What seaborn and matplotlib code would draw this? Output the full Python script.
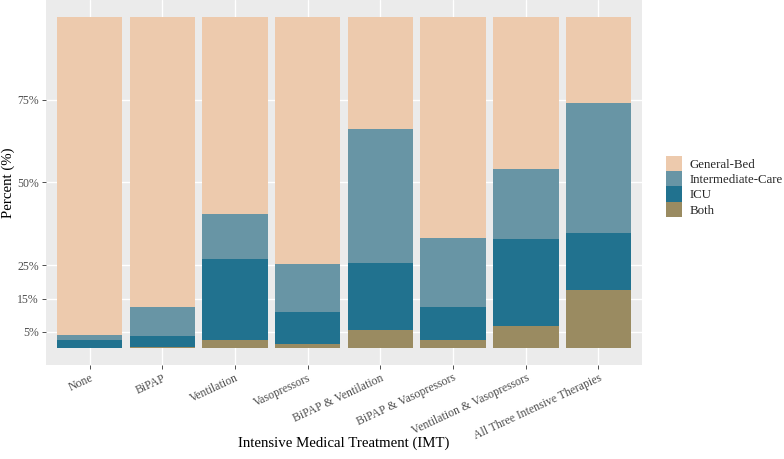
import numpy as np
import pandas as pd
import matplotlib
matplotlib.use("Agg")
import matplotlib.pyplot as plt
import seaborn as sns
from matplotlib.patches import Patch

# --- data (percent of patients per treatment group) ---
treatments = ["None", "BiPAP", "Ventilation", "Vasopressors",
              "BiPAP & Ventilation", "BiPAP & Vasopressors",
              "Ventilation & Vasopressors", "All Three Intensive Therapies"]
both = [0.0, 0.5, 2.6, 1.4, 5.4, 2.4, 6.9, 17.7]
icu = [2.6, 3.1, 24.2, 9.7, 20.2, 10.2, 26.0, 17.1]
intermediate = [1.5, 8.9, 13.8, 14.3, 40.4, 20.6, 21.1, 39.2]
general = [95.9, 87.5, 59.4, 74.6, 34.0, 66.8, 46.0, 26.0]

levels = ["General-Bed", "Intermediate-Care", "ICU", "Both"]
colors = {"General-Bed": "#EDCAAD", "Intermediate-Care": "#6895A5",
          "ICU": "#21728F", "Both": "#9A8B61"}
y_ticks = [5, 15, 25, 50, 75]

df = pd.DataFrame({"treatment": treatments, "Both": both, "ICU": icu,
                   "Intermediate-Care": intermediate, "General-Bed": general})
# cumulative heights, bottom layer = Both
df["cum_Both"] = df["Both"]
df["cum_ICU"] = df["cum_Both"] + df["ICU"]
df["cum_Intermediate-Care"] = df["cum_ICU"] + df["Intermediate-Care"]
df["cum_General-Bed"] = df["cum_Intermediate-Care"] + df["General-Bed"]

sns.set_theme(style="darkgrid")
plt.rcParams["font.family"] = ["Liberation Serif", "DejaVu Serif"]

fig = plt.figure(figsize=(7.84, 4.59), dpi=100)
ax = fig.add_axes([0.0587, 0.2048, 0.7603, 0.7952])
ax.set_facecolor("#EBEBEB")

# draw tallest layer first, overlap the rest
for lev in levels:
    sns.barplot(data=df, x="treatment", y="cum_" + lev, color=colors[lev],
                width=0.9, saturation=1, edgecolor="none", linewidth=0,
                ax=ax, zorder=2)

ax.set_xlim(-0.6, len(treatments) - 0.4)
ax.set_ylim(-5, 105)
ax.set_yticks(y_ticks)
ax.set_yticklabels([f"{t}%" for t in y_ticks])
ax.grid(True, color="white", linewidth=1.0, zorder=0)
ax.set_axisbelow(True)
for s in ax.spines.values():
    s.set_visible(False)

ax.tick_params(axis="both", which="major", length=3, width=0.6,
               color="#333333", labelcolor="#4D4D4D", labelsize=8.5,
               bottom=True, left=True, pad=2)
plt.setp(ax.get_xticklabels(), rotation=25, ha="right", va="top",
         rotation_mode="anchor")

ax.set_xlabel("Intensive Medical Treatment (IMT)", fontsize=10.7, color="black")
ax.set_ylabel("Percent (%)", fontsize=10.7, color="black", va="center")
ax.xaxis.set_label_coords(0.5, -0.197)
ax.yaxis.set_label_coords(-0.064, 0.5)

handles = [Patch(facecolor=colors[l], edgecolor="none", label=l) for l in levels]
fig.legend(handles=handles, loc="center left", bbox_to_anchor=(0.843, 0.594),
           frameon=False, fontsize=9.3, handlelength=1.2, handleheight=1.45,
           handletextpad=0.6, labelspacing=0.0, borderaxespad=0)

fig.savefig("out.png", dpi=100)
